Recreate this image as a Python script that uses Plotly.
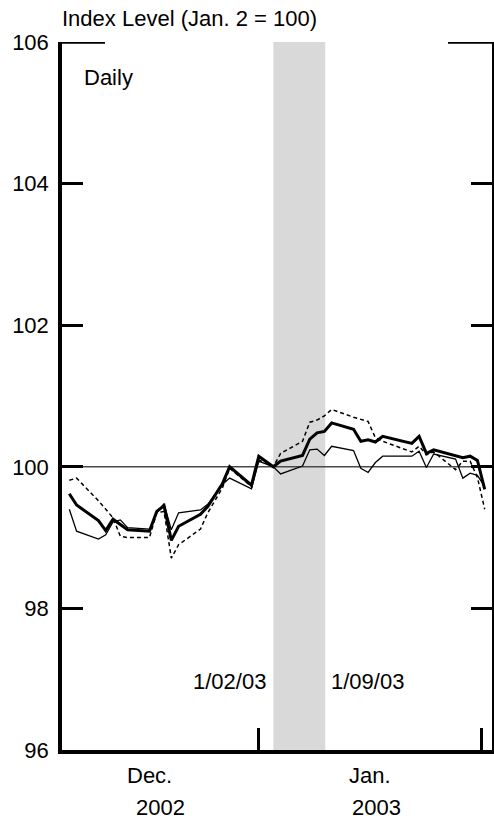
import plotly.graph_objects as go

dates = [
    "2002-12-05", "2002-12-06", "2002-12-09", "2002-12-10", "2002-12-11", "2002-12-12",
    "2002-12-13", "2002-12-16", "2002-12-17", "2002-12-18", "2002-12-19", "2002-12-20",
    "2002-12-23", "2002-12-24", "2002-12-26", "2002-12-27", "2002-12-30", "2002-12-31",
    "2003-01-02", "2003-01-03", "2003-01-06", "2003-01-07", "2003-01-08", "2003-01-09",
    "2003-01-10", "2003-01-13", "2003-01-14", "2003-01-15", "2003-01-16", "2003-01-17",
    "2003-01-21", "2003-01-22", "2003-01-23", "2003-01-24", "2003-01-27", "2003-01-28",
    "2003-01-29", "2003-01-30", "2003-01-31",
]

series_thick = [
    99.62, 99.46, 99.24, 99.10, 99.26, 99.19, 99.11, 99.09, 99.37, 99.45, 98.96, 99.16,
    99.33, 99.44, 99.76, 100.00, 99.74, 100.15,
    100.00, 100.08, 100.16, 100.39, 100.48, 100.50, 100.62, 100.53, 100.36, 100.38,
    100.35, 100.43, 100.33, 100.43, 100.19, 100.24, 100.15, 100.13, 100.15, 100.09, 99.68,
]

series_thin = [
    99.40, 99.09, 98.98, 99.04, 99.22, 99.25, 99.14, 99.12, 99.35, 99.48, 99.11, 99.35,
    99.39, 99.47, 99.75, 99.84, 99.69, 100.08,
    100.00, 99.90, 100.01, 100.24, 100.25, 100.16, 100.29, 100.23, 99.98, 99.92,
    100.06, 100.15, 100.15, 100.22, 99.99, 100.18, 100.11, 99.84, 99.91, 99.88, 99.72,
]

series_dashed = [
    99.81, 99.84, 99.52, 99.40, 99.28, 99.02, 99.00, 99.00, 99.35, 99.37, 98.71, 98.90,
    99.12, 99.35, 99.70, 99.98, 99.72, 100.10,
    100.00, 100.19, 100.36, 100.63, 100.66, 100.72, 100.81, 100.70, 100.67, 100.64,
    100.41, 100.36, 100.21, 100.29, 100.17, 100.21, 99.96, 100.08, 100.08, 99.85, 99.40,
]

y_ticks = [96, 98, 100, 102, 104, 106]
shade_start, shade_end = "2003-01-02", "2003-01-09 03:00"
month_ticks = ["2002-12-31", "2003-01-30 12:00"]

FONT = "Liberation Sans, Arial, sans-serif"
FS = 22

fig = go.Figure()

fig.add_shape(type="rect", xref="x", yref="paper", x0=shade_start, x1=shade_end,
              y0=0, y1=1, fillcolor="#d9d9d9", line_width=0, layer="below")
fig.add_shape(type="line", xref="paper", yref="y", x0=0, x1=1, y0=100, y1=100,
              line=dict(color="#4a4a4a", width=1.6), layer="below")

fig.add_trace(go.Scatter(x=dates, y=series_dashed, mode="lines",
                         line=dict(color="black", width=1.5, dash="4px,3px")))
fig.add_trace(go.Scatter(x=dates, y=series_thin, mode="lines",
                         line=dict(color="black", width=1.3)))
fig.add_trace(go.Scatter(x=dates, y=series_thick, mode="lines",
                         line=dict(color="black", width=3)))

# longer tick segments at the top (106)
fig.add_shape(type="line", xref="paper", yref="y", x0=0, x1=43 / 430, y0=106, y1=106,
              line=dict(color="black", width=3.5))
fig.add_shape(type="line", xref="paper", yref="y", x0=1 - 44 / 430, x1=1, y0=106, y1=106,
              line=dict(color="black", width=3.5))

ann = []
ann.append(dict(text="Index Level (Jan. 2 = 100)", xref="paper", yref="paper", x=0, y=1,
                xanchor="left", yanchor="middle", yshift=24, xshift=-2, showarrow=False))
ann.append(dict(text="Daily", xref="paper", yref="paper", x=20 / 430, y=1,
                xanchor="left", yanchor="middle", yshift=-35, showarrow=False))
ann.append(dict(text="1/02/03", xref="x", yref="paper", x=shade_start, y=(750 - 681.7) / 708,
                xanchor="right", yanchor="middle", xshift=-5, showarrow=False))
ann.append(dict(text="1/09/03", xref="x", yref="paper", x="2003-01-09", y=(750 - 681.7) / 708,
                xanchor="left", yanchor="middle", xshift=5, showarrow=False))
ann.append(dict(text="Dec.", xref="paper", yref="paper", x=(149 - 62) / 430, y=0,
                xanchor="center", yanchor="middle", yshift=-25, showarrow=False))
ann.append(dict(text="2002", xref="paper", yref="paper", x=(160.5 - 62) / 430, y=0,
                xanchor="center", yanchor="middle", yshift=-57, showarrow=False))
ann.append(dict(text="Jan.", xref="paper", yref="paper", x=(370 - 62) / 430, y=0,
                xanchor="center", yanchor="middle", yshift=-25, showarrow=False))
ann.append(dict(text="2003", xref="paper", yref="paper", x=(376 - 62) / 430, y=0,
                xanchor="center", yanchor="middle", yshift=-57, showarrow=False))

fig.update_layout(
    width=498, height=822,
    margin=dict(l=62, r=2, t=42, b=72),
    paper_bgcolor="white", plot_bgcolor="white",
    showlegend=False,
    font=dict(family=FONT, size=FS, color="black"),
    annotations=ann,
)

fig.update_xaxes(
    type="date", range=["2002-12-04", "2003-02-01"],
    showgrid=False, zeroline=False,
    showline=True, linecolor="black", linewidth=3.5,
    ticks="inside", tickvals=month_ticks, ticklen=22, tickwidth=3, tickcolor="black",
    showticklabels=False,
)
fig.update_yaxes(
    range=[96, 106], tickvals=y_ticks, ticktext=[str(v) for v in y_ticks],
    showgrid=False, zeroline=False,
    showline=True, linecolor="black", linewidth=3.5, mirror="ticks",
    ticks="inside", ticklen=21, tickwidth=3, tickcolor="black",
    ticklabelstandoff=5,
    tickfont=dict(family=FONT, size=FS, color="black"),
)

fig.write_html(
    "out.html",
    config={"responsive": False, "displayModeBar": False},
    post_script="document.body.style.margin='0';document.body.style.overflow='hidden';",
)
